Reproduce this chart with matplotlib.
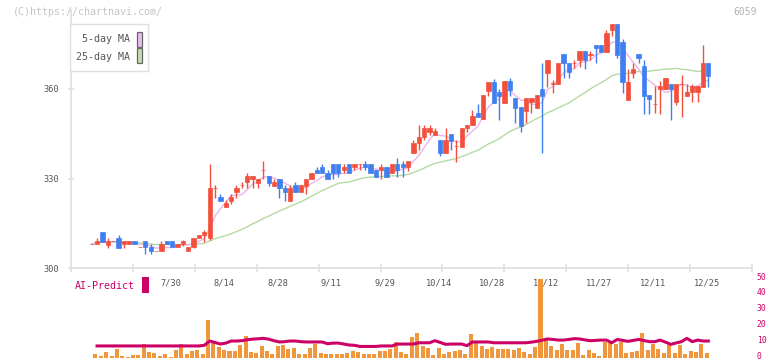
import numpy as np
import pandas as pd
import matplotlib
matplotlib.use("Agg")
import matplotlib.pyplot as plt
from matplotlib.patches import Rectangle
from matplotlib.transforms import blended_transform_factory

# ---------------- data ----------------
date_labels = ["7/30", "8/14", "8/28", "9/11", "9/29", "10/14", "10/28",
               "11/12", "11/27", "12/11", "12/25"]
label_index = [15, 25, 35, 45, 55, 65, 75, 85, 95, 105, 115]

opens = [308.0, 308.0, 312.1, 307.8, 309.1, 310.1, 308.0, 308.0, 309.1, 307.1,
         309.1, 307.1, 305.9, 305.9, 309.1, 309.1, 307.0, 308.0, 305.9, 307.0,
         310.0, 311.1, 310.0, 326.8, 323.8, 320.6, 322.6, 325.6, 327.8, 328.8,
         329.8, 328.6, 332.8, 330.9, 327.6, 329.8, 326.8, 322.5, 327.9, 325.6,
         327.6, 329.8, 332.9, 333.9, 331.8, 334.9, 334.9, 332.8, 334.9, 333.9,
         334.8, 334.9, 334.9, 332.9, 332.8, 333.9, 331.8, 334.9, 334.9, 333.9,
         338.7, 341.8, 343.8, 345.7, 344.6, 342.9, 338.7, 344.9, 340.8, 340.7,
         346.8, 347.8, 351.9, 349.8, 359.4, 362.4, 359.0, 355.3, 362.6, 356.9,
         353.9, 352.7, 355.7, 353.7, 360.0, 365.4, 361.8, 361.5, 371.7, 368.6,
         368.5, 369.6, 372.7, 371.5, 374.7, 374.7, 372.4, 379.6, 381.7, 375.6,
         356.4, 365.4, 371.7, 367.7, 358.0, 354.8, 359.8, 359.8, 361.6, 355.7,
         361.5, 357.7, 358.9, 358.9, 360.7, 368.7]
highs = [308.2, 310.1, 312.1, 310.1, 309.1, 311.1, 309.1, 309.1, 309.1, 307.1,
         309.1, 308.0, 305.9, 309.1, 309.1, 309.1, 308.0, 309.6, 307.0, 310.1,
         311.1, 312.8, 334.9, 327.8, 324.8, 322.7, 324.8, 327.9, 328.8, 331.8,
         330.9, 329.8, 335.9, 330.9, 329.8, 329.8, 327.9, 327.9, 328.8, 327.9,
         329.8, 331.8, 333.9, 334.9, 332.9, 334.9, 334.9, 334.9, 334.9, 334.9,
         334.9, 335.9, 334.9, 332.9, 334.9, 333.9, 334.9, 336.8, 335.9, 335.9,
         342.9, 347.9, 347.9, 347.9, 346.8, 342.9, 346.8, 344.9, 342.9, 346.8,
         347.9, 352.9, 354.9, 358.0, 362.4, 363.4, 359.9, 362.6, 363.6, 356.9,
         353.9, 356.9, 356.9, 358.0, 368.6, 369.6, 363.0, 368.6, 371.7, 368.6,
         369.6, 372.7, 372.7, 372.7, 374.7, 374.7, 379.7, 381.7, 381.7, 376.7,
         366.6, 368.6, 371.7, 369.6, 358.0, 361.0, 362.6, 363.6, 361.6, 361.6,
         364.6, 361.6, 361.6, 361.1, 374.8, 368.7]
lows = [308.0, 308.0, 308.9, 306.9, 309.1, 306.9, 306.9, 308.0, 308.0, 307.1,
        304.9, 304.9, 305.9, 305.9, 308.0, 307.0, 307.0, 307.5, 305.9, 306.8,
        310.0, 308.9, 309.5, 323.4, 322.6, 320.6, 321.6, 323.6, 326.8, 326.8,
        326.8, 326.8, 329.8, 327.5, 327.6, 323.6, 322.5, 322.5, 325.6, 325.6,
        324.7, 329.8, 331.8, 331.8, 329.8, 329.8, 330.5, 331.8, 331.8, 332.8,
        332.9, 332.8, 331.8, 330.6, 329.8, 330.6, 331.8, 330.6, 330.6, 332.7,
        338.7, 339.6, 342.9, 344.6, 344.6, 337.7, 338.7, 339.6, 335.7, 340.7,
        345.7, 347.8, 350.7, 349.8, 357.5, 355.3, 349.6, 355.3, 357.7, 348.7,
        345.7, 348.7, 352.0, 353.7, 338.7, 360.7, 358.5, 361.5, 363.5, 363.5,
        366.9, 367.4, 366.6, 369.6, 368.6, 372.4, 372.4, 377.7, 370.4, 358.7,
        356.4, 363.5, 368.6, 351.7, 351.7, 351.8, 351.7, 359.8, 349.7, 354.6,
        350.7, 357.7, 355.7, 355.7, 360.7, 360.7]
closes = [308.1, 309.1, 308.9, 309.1, 309.1, 306.9, 309.1, 309.1, 308.0, 307.1,
          307.0, 305.9, 305.9, 308.0, 308.0, 307.0, 308.0, 309.1, 307.0, 310.1,
          311.1, 312.1, 326.9, 327.0, 322.6, 321.8, 323.8, 327.0, 328.0, 330.9,
          330.9, 329.8, 333.0, 328.6, 328.8, 326.8, 325.6, 326.8, 325.6, 327.9,
          329.8, 331.8, 331.8, 331.8, 329.8, 331.8, 331.8, 333.9, 331.8, 334.9,
          334.9, 333.9, 331.8, 330.6, 333.9, 330.6, 334.9, 332.8, 333.9, 335.9,
          341.8, 343.8, 346.8, 346.8, 345.9, 338.7, 342.9, 342.7, 341.0, 346.8,
          347.9, 350.9, 350.7, 358.0, 362.4, 355.3, 357.7, 362.6, 359.6, 353.7,
          347.7, 356.9, 356.9, 358.0, 357.7, 369.6, 362.0, 368.6, 368.6, 365.5,
          368.7, 372.7, 369.6, 371.7, 373.6, 372.4, 378.7, 381.7, 371.3, 362.4,
          362.2, 366.6, 370.4, 357.7, 356.7, 355.0, 361.0, 363.6, 359.8, 361.6,
          361.7, 359.0, 361.1, 361.1, 368.7, 364.4]

volume = [0.0, 2.3, 1.1, 3.6, 1.0, 5.5, 1.0, 0.6, 1.7, 1.7,
          8.6, 3.6, 3.2, 1.1, 2.3, 0.6, 4.8, 8.6, 2.3, 4.4,
          4.8, 2.3, 23.7, 10.5, 6.7, 4.8, 4.2, 4.2, 8.0, 13.7,
          3.6, 2.9, 7.1, 4.2, 2.3, 7.1, 8.0, 5.5, 6.1, 2.3,
          2.3, 6.1, 8.6, 2.9, 2.3, 2.3, 2.3, 2.3, 2.9, 4.2,
          3.8, 2.3, 2.3, 2.3, 4.2, 4.4, 5.5, 10.1, 3.6, 2.3,
          12.8, 15.8, 7.4, 6.1, 1.7, 6.1, 2.3, 3.6, 4.2, 4.8,
          2.3, 14.9, 10.1, 7.4, 5.5, 6.7, 5.5, 5.5, 5.5, 4.8,
          6.1, 3.6, 2.3, 6.7, 49.6, 11.1, 7.4, 4.8, 8.6, 4.8,
          4.8, 9.2, 1.7, 4.8, 2.9, 1.1, 9.9, 9.2, 8.6, 9.9,
          2.9, 3.6, 4.2, 15.8, 4.8, 8.6, 5.5, 2.9, 8.0, 2.9,
          8.0, 2.3, 4.2, 3.6, 8.6, 2.9]

ai_predict = [7.4, 7.4, 7.4, 7.4, 7.4, 7.4, 7.4, 7.4, 7.4, 7.4,
              7.4, 7.4, 7.4, 7.4, 7.4, 7.4, 7.4, 7.4, 7.4, 7.4,
              7.4, 7.8, 10.5, 9.6, 8.6, 9.2, 10.5, 10.5, 10.7, 11.3,
              11.7, 11.9, 12.2, 11.7, 10.7, 9.9, 10.1, 10.5, 10.5, 10.1,
              9.9, 9.9, 9.9, 9.9, 8.8, 9.2, 9.2, 8.6, 8.0, 7.8,
              7.1, 7.1, 7.1, 7.1, 7.4, 7.4, 7.4, 8.6, 8.6, 8.6,
              8.6, 9.4, 9.4, 9.4, 10.7, 9.6, 8.4, 8.6, 8.6, 8.6,
              7.6, 9.9, 9.9, 9.9, 9.9, 9.4, 9.4, 9.4, 9.4, 9.4,
              9.4, 9.4, 9.8, 10.3, 11.0, 11.8, 11.5, 11.1, 11.1, 11.5,
              12.0, 11.8, 11.2, 10.7, 10.9, 11.1, 11.1, 9.4, 11.5, 10.9,
              10.3, 10.9, 11.5, 10.8, 10.1, 10.1, 11.1, 9.8, 8.4, 9.3,
              10.1, 12.2, 10.1, 11.1, 10.5, 10.5]

right_ticks = [0, 10, 20, 30, 40, 50]
left_ticks = [300, 330, 360]

# ---------------- styling constants ----------------
RED = "#f2503c"
BLUE = "#3f7ff0"
PINK = "#ebb4eb"
GREEN = "#b4daa4"
ORANGE = "#f0963c"
MAGENTA = "#cc0066"
GRID = "#e0e0e0"
TXT = "#555555"
FONT = "DejaVu Sans Mono"

plt.rcParams["font.family"] = [FONT]

W, H = 772, 361
fig = plt.figure(figsize=(W / 100, H / 100), dpi=100)

def fx(px):
    return px / W

def fy(py):
    return (H - py) / H

x_left_px, x_right_px = 70.7, 752.3
first_px, step_px = 91.7, 5.362
xlim = ((x_left_px - first_px) / step_px, (x_right_px - first_px) / step_px)

main_bottom_px, main_top_px = 268.3, 10.0
ax = fig.add_axes([fx(x_left_px), fy(main_bottom_px),
                   fx(x_right_px) - fx(x_left_px),
                   (main_bottom_px - main_top_px) / H])
ax.set_xlim(*xlim)
ax.set_ylim(300, 300 + (main_bottom_px - main_top_px) / 2.99)

o = np.array(opens)
h = np.array(highs)
l = np.array(lows)
c = np.array(closes)
idx = np.arange(len(o))

ma5 = pd.Series(c).rolling(5, min_periods=1).mean()
ma25 = pd.Series(c).rolling(25, min_periods=1).mean()
ax.plot(idx, ma25, color=GREEN, lw=1.0, zorder=1)
ax.plot(idx, ma5, color=PINK, lw=1.0, zorder=1)

cols = np.where(c >= o, RED, BLUE)
ax.vlines(idx, l, h, colors=cols, lw=1.0, zorder=2)
ax.bar(idx, np.abs(c - o), bottom=np.minimum(o, c), width=0.8,
       color=cols, edgecolor=cols, linewidth=0.5, zorder=3)

for s in ["top", "right"]:
    ax.spines[s].set_visible(False)
for s in ["left", "bottom"]:
    ax.spines[s].set_color(GRID)
    ax.spines[s].set_linewidth(1.3)

ax.set_yticks(left_ticks)
ax.set_yticklabels([str(v) for v in left_ticks])
ax.tick_params(axis="y", direction="inout", length=5, width=1.2, color=GRID,
               labelsize=6.2, labelcolor=TXT, pad=5.5)
ax.set_xticks(np.linspace(xlim[0], xlim[1], 12))
ax.tick_params(axis="x", direction="inout", length=6, width=1.2, color=GRID,
               labelbottom=False)

trans = ax.get_xaxis_transform()
for pos, lab in zip(label_index, date_labels):
    ax.text(pos - 0.3, (main_bottom_px - 282.7) / (main_bottom_px - main_top_px),
            lab, transform=trans, ha="center", va="center",
            fontsize=6.2, color=TXT, clip_on=False)

# ---------------- lower panel ----------------
low_bottom_px, low_top_px = 357.7, 278.3
ax2 = fig.add_axes([fx(x_left_px), fy(low_bottom_px),
                    fx(x_right_px) - fx(x_left_px),
                    (low_bottom_px - low_top_px) / H])
ax2.set_xlim(*xlim)
ax2.set_ylim(0, 50)
ax2.bar(idx - 0.3, volume, width=0.75, color=ORANGE, zorder=1)
ax2.plot(idx[1:], ai_predict[1:], color=MAGENTA, lw=2.2, zorder=2)
for s in ax2.spines.values():
    s.set_visible(False)
ax2.set_xticks([])
ax2.set_yticks([])
ax2.patch.set_alpha(0)
rtrans = blended_transform_factory(ax2.transAxes, ax2.transData)
for v in right_ticks:
    ax2.text(1.0 + 4.5 / (x_right_px - x_left_px), v + 0.8, str(v),
             transform=rtrans, ha="left", va="center", fontsize=5.8,
             color=MAGENTA, clip_on=False)

# ---------------- texts & legend ----------------
fig.text(fx(13), fy(12), "(C)https://chartnavi.com/", fontsize=7.2,
         color="#c4c4c4", va="center", ha="left")
fig.text(fx(757), fy(12), "6059", fontsize=7, color="#b4b4b4",
         va="center", ha="right")
fig.text(fx(75), fy(286), "AI-Predict", fontsize=7.2, color=MAGENTA,
         va="center", ha="left")
fig.patches.append(Rectangle((fx(142.3), fy(292.7)), 6.7 / W, 16 / H,
                             transform=fig.transFigure, facecolor=MAGENTA,
                             edgecolor="none"))

fig.patches.append(Rectangle((fx(70.3), fy(71)), 78 / W, 47 / H,
                             transform=fig.transFigure, facecolor="white",
                             edgecolor=GRID, lw=1.0, zorder=5))
fig.text(fx(130), fy(39.5), "5-day MA", fontsize=7.2, color=TXT,
         va="center", ha="right", zorder=6)
fig.text(fx(130), fy(56.5), "25-day MA", fontsize=7.2, color=TXT,
         va="center", ha="right", zorder=6)
fig.patches.append(Rectangle((fx(136.7), fy(46.7)), 5.6 / W, 15 / H,
                             transform=fig.transFigure, facecolor="#f0bcf0",
                             edgecolor="#666666", lw=0.9, zorder=6))
fig.patches.append(Rectangle((fx(136.7), fy(63.3)), 5.6 / W, 15 / H,
                             transform=fig.transFigure, facecolor="#c0e0b0",
                             edgecolor="#666666", lw=0.9, zorder=6))

fig.savefig("out.png", dpi=100)
